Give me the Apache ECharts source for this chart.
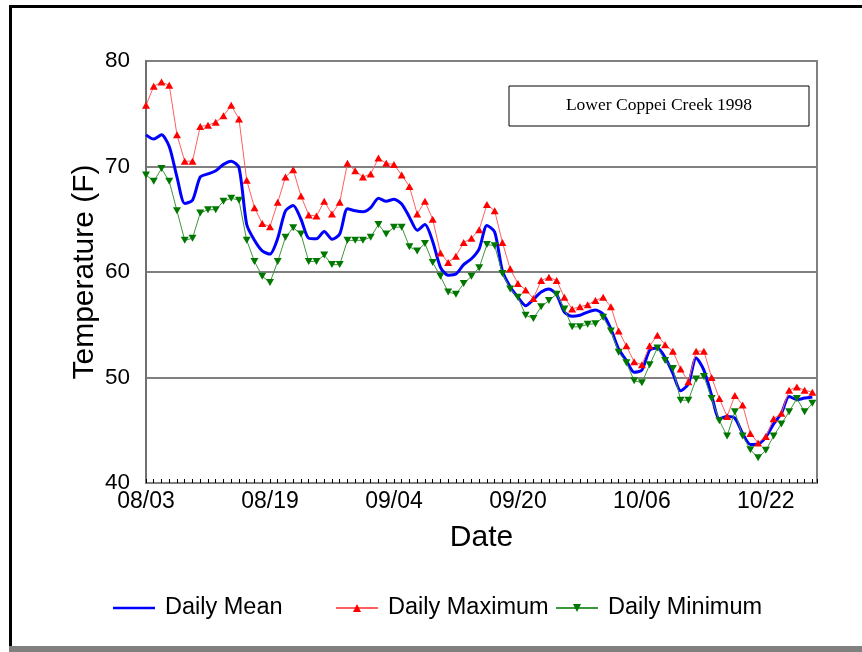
<!DOCTYPE html>
<html><head><meta charset="utf-8">
<script src="https://cdn.jsdelivr.net/npm/echarts@6/dist/echarts.min.js"></script>
<style>html,body{margin:0;padding:0;background:#fff}#c{width:862px;height:652px}</style>
</head><body><div id="c"></div>
<script>
const xTickDays = [0, 16, 32, 48, 64, 80];
const xTickLabels = ['08/03', '08/19', '09/04', '09/20', '10/06', '10/22'];
const yTicks = [40, 50, 60, 70, 80];
const seriesNames = ['Daily Mean', 'Daily Maximum', 'Daily Minimum'];
const chartTitle = 'Lower Coppei Creek 1998';

const dailyMean = [
  73.0, 72.6, 73.0, 71.9, 69.0, 66.5, 66.8, 69.0, 69.3, 69.6,
  70.2, 70.5, 69.9, 64.5, 63.0, 62.0, 61.7, 63.2, 65.8, 66.3,
  65.0, 63.2, 63.15, 63.85, 63.1, 63.6, 66.0, 65.8, 65.7, 66.1,
  67.0, 66.7, 66.9, 66.45, 65.2, 63.95, 64.5, 62.9, 60.45, 59.7,
  59.8, 60.7, 61.25, 62.2, 64.4, 63.8, 60.1, 58.6, 57.6, 56.8,
  57.4, 58.1, 58.4, 57.85, 56.2, 55.8, 55.9, 56.2, 56.4, 56.0,
  54.6, 52.7, 51.6, 50.5, 50.7, 52.6, 52.8, 51.9, 50.4, 48.75,
  49.4, 51.85, 50.7, 48.3, 46.1, 46.3, 46.15, 44.7, 43.65, 43.7,
  44.35, 45.6, 46.6, 48.2, 47.9, 48.05, 48.15
];
const dailyMax = [
  75.8, 77.6, 78.0, 77.7, 73.0, 70.5, 70.5, 73.8, 73.9, 74.2,
  74.8, 75.8, 74.5, 68.7, 66.1, 64.6, 64.3, 66.6, 69.0, 69.7,
  67.2, 65.4, 65.3, 66.7, 65.5, 66.6, 70.3, 69.6, 69.0, 69.3,
  70.8, 70.3, 70.2, 69.2, 68.1, 65.5, 66.7, 65.0, 61.8, 60.9,
  61.5, 62.8, 63.2, 64.0, 66.4, 65.8, 62.8, 60.3, 58.9, 58.3,
  57.5, 59.2, 59.5, 59.2, 57.6, 56.5, 56.7, 56.9, 57.3, 57.6,
  56.7, 54.4, 53.0, 51.5, 51.2, 53.0, 54.0, 53.1, 52.5, 50.8,
  49.6, 52.5, 52.5, 50.0, 48.0, 46.3, 48.3, 47.4, 44.7, 43.8,
  44.4, 46.1, 46.6, 48.8, 49.1, 48.8, 48.6
];
const dailyMin = [
  69.2, 68.6, 69.8, 68.6, 65.8, 63.0, 63.2, 65.6, 65.9, 65.9,
  66.7, 67.0, 66.8, 63.0, 61.0, 59.6, 59.0, 61.0, 63.3, 64.2,
  63.6, 61.0, 61.0, 61.6, 60.7, 60.7, 63.0, 63.0, 63.0, 63.3,
  64.5, 63.6, 64.25, 64.25, 62.4, 62.0, 62.7, 60.9, 59.6, 58.1,
  57.9, 58.9, 59.6, 60.4, 62.6, 62.5, 59.85, 58.4, 57.6, 55.9,
  55.6, 56.7, 57.3, 57.9, 56.5, 54.8, 54.8, 55.05, 55.1, 55.7,
  54.4, 52.4, 51.4, 49.7, 49.5, 51.2, 52.8, 51.6, 50.85, 47.85,
  47.85, 49.85, 50.1, 48.0, 45.9, 44.45, 46.75, 44.45, 43.15, 42.4,
  43.1, 44.45, 45.6, 46.75, 48.0, 46.75, 47.55
];

const FONT = '"Liberation Sans", Arial, sans-serif';
const pts = arr => arr.map((v, i) => [i, v]);
const chart = echarts.init(document.getElementById('c'), null, { renderer: 'canvas' });

const legendBase = {
  orient: 'horizontal', top: 596, itemWidth: 42, itemHeight: 10, padding: 0,
  textStyle: { fontFamily: FONT, fontSize: 23.5, color: '#000', padding: [0, 0, 0, 5] }
};

chart.setOption({
  animation: false,
  backgroundColor: '#fff',
  grid: { left: 146, top: 61, width: 671, height: 422, show: true, borderColor: '#808080', borderWidth: 2, backgroundColor: 'transparent' },
  xAxis: {
    type: 'value', min: 0, max: 86.6, interval: 1,
    name: 'Date', nameLocation: 'middle', nameGap: 40,
    nameTextStyle: { fontFamily: FONT, fontSize: 30, color: '#000' },
    axisLine: { show: true, onZero: false, lineStyle: { color: '#808080', width: 2 } },
    axisTick: { show: true, inside: true, length: 4, lineStyle: { color: '#000', width: 1 } },
    axisLabel: {
      customValues: xTickDays,
      formatter: v => { const k = xTickDays.indexOf(Math.round(v)); return k >= 0 ? xTickLabels[k] : ''; },
      fontFamily: FONT, fontSize: 23, color: '#000', margin: 7
    },
    splitLine: { show: false }
  },
  yAxis: {
    type: 'value', min: 40, max: 80, interval: 10,
    name: 'Temperature (F)', nameLocation: 'middle', nameGap: 46, nameMoveOverlap: false,
    nameTextStyle: { fontFamily: FONT, fontSize: 30, color: '#000' },
    axisLine: { show: true, lineStyle: { color: '#707070', width: 2 } },
    axisTick: { show: false },
    axisLabel: { customValues: yTicks, fontFamily: FONT, fontSize: 22.5, color: '#000', margin: 16 },
    splitLine: { show: true, lineStyle: { color: '#808080', width: 2 } }
  },
  legend: [
    Object.assign({}, legendBase, { data: [{ name: seriesNames[0], icon: 'rect' }], left: 113, itemHeight: 2.5 }),
    Object.assign({}, legendBase, { data: [seriesNames[1]], left: 335 }),
    Object.assign({}, legendBase, { data: [seriesNames[2]], left: 555 })
  ],
  series: [
    {
      name: seriesNames[0], type: 'line', data: pts(dailyMean), symbol: 'none', smooth: 0.25,
      lineStyle: { color: '#0000ff', width: 3 }, itemStyle: { color: '#0000ff' }, z: 2
    },
    {
      name: seriesNames[1], type: 'line', data: pts(dailyMax), symbol: 'triangle', symbolSize: [8, 7],
      lineStyle: { color: '#ff6060', width: 1 }, itemStyle: { color: '#ff0000' }, z: 3
    },
    {
      name: seriesNames[2], type: 'line', data: pts(dailyMin), symbol: 'triangle', symbolRotate: 180, symbolSize: [8, 7],
      lineStyle: { color: '#3c963c', width: 1 }, itemStyle: { color: '#007800' }, z: 4
    }
  ],
  graphic: [
    { type: 'rect', shape: { x: 9, y: 5, width: 3, height: 643 }, style: { fill: '#000' } },
    { type: 'rect', shape: { x: 9, y: 5, width: 853, height: 3 }, style: { fill: '#000' } },
    { type: 'rect', shape: { x: 9, y: 646, width: 853, height: 6 }, style: { fill: '#808080' } },
    { type: 'rect', shape: { x: 509, y: 86, width: 300, height: 40 }, style: { fill: '#fff', stroke: '#000', lineWidth: 1 } },
    { type: 'text', x: 659, y: 105, style: { text: chartTitle, font: '17.5px "Liberation Serif", "Times New Roman", serif', fill: '#000', textAlign: 'center', textVerticalAlign: 'middle' } }
  ]
});
</script></body></html>
